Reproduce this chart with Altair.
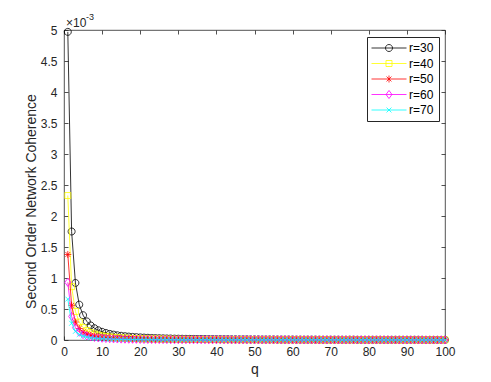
import altair as alt
import pandas as pd

# ---------------- data (values in units of 1e-3) ----------------
q = list(range(1, 101))
series_names = ["r=30", "r=40", "r=50", "r=60", "r=70"]
series_colors = ["#000000", "#FFFF00", "#FF0000", "#FF00FF", "#00FFFF"]

r30 = [4.97, 1.75, 0.92, 0.57, 0.40, 0.30, 0.235, 0.19, 0.157, 0.132,
       0.113, 0.098, 0.086, 0.076, 0.068, 0.061, 0.055, 0.050, 0.046, 0.042,
       0.039, 0.036, 0.033, 0.031, 0.029, 0.027, 0.025, 0.024, 0.022, 0.021,
       0.020, 0.019, 0.018, 0.017, 0.016, 0.016, 0.015, 0.014, 0.014, 0.013,
       0.013, 0.012, 0.012, 0.011, 0.011, 0.010, 0.010, 0.010, 0.009, 0.009,
       0.009, 0.008, 0.008, 0.008, 0.008, 0.007, 0.007, 0.007, 0.007, 0.007,
       0.006, 0.006, 0.006, 0.006, 0.006, 0.006, 0.005, 0.005, 0.005, 0.005,
       0.005, 0.005, 0.005, 0.005, 0.005, 0.005, 0.004, 0.004, 0.004, 0.004,
       0.004, 0.004, 0.004, 0.004, 0.004, 0.004, 0.004, 0.004, 0.004, 0.004,
       0.004, 0.004, 0.004, 0.004, 0.003, 0.003, 0.003, 0.003, 0.003, 0.003]

r40 = [2.33, 0.86, 0.46, 0.29, 0.20, 0.152, 0.119, 0.096, 0.079, 0.067,
       0.057, 0.049, 0.043, 0.038, 0.034, 0.031, 0.028, 0.025, 0.023, 0.021,
       0.020, 0.018, 0.017, 0.016, 0.015, 0.014, 0.013, 0.012, 0.011, 0.011,
       0.010, 0.010, 0.009, 0.009, 0.008, 0.008, 0.008, 0.007, 0.007, 0.007,
       0.006, 0.006, 0.006, 0.006, 0.006, 0.006, 0.005, 0.005, 0.005, 0.005,
       0.005, 0.005, 0.005, 0.005, 0.004, 0.004, 0.004, 0.004, 0.004, 0.004,
       0.004, 0.004, 0.004, 0.004, 0.004, 0.004, 0.003, 0.003, 0.003, 0.003,
       0.003, 0.003, 0.003, 0.003, 0.003, 0.003, 0.003, 0.003, 0.003, 0.003,
       0.003, 0.003, 0.003, 0.003, 0.003, 0.002, 0.002, 0.002, 0.002, 0.002,
       0.002, 0.002, 0.002, 0.002, 0.002, 0.002, 0.002, 0.002, 0.002, 0.002]

r50 = [1.38, 0.56, 0.29, 0.185, 0.128, 0.095, 0.074, 0.060, 0.049, 0.041,
       0.035, 0.030, 0.027, 0.024, 0.021, 0.019, 0.017, 0.015, 0.014, 0.013,
       0.012, 0.011, 0.010, 0.010, 0.009, 0.008, 0.008, 0.007, 0.007, 0.007,
       0.006, 0.006, 0.006, 0.006, 0.006, 0.005, 0.005, 0.005, 0.005, 0.005,
       0.005, 0.005, 0.005, 0.004, 0.004, 0.004, 0.004, 0.004, 0.004, 0.004,
       0.004, 0.004, 0.004, 0.004, 0.003, 0.003, 0.003, 0.003, 0.003, 0.003,
       0.003, 0.003, 0.003, 0.003, 0.003, 0.003, 0.003, 0.003, 0.003, 0.003,
       0.002, 0.002, 0.002, 0.002, 0.002, 0.002, 0.002, 0.002, 0.002, 0.002,
       0.002, 0.002, 0.002, 0.002, 0.002, 0.002, 0.002, 0.002, 0.002, 0.002,
       0.002, 0.002, 0.002, 0.002, 0.002, 0.002, 0.002, 0.002, 0.002, 0.002]

r60 = [0.93, 0.38, 0.20, 0.125, 0.087, 0.065, 0.051, 0.041, 0.034, 0.028,
       0.024, 0.021, 0.018, 0.016, 0.014, 0.013, 0.012, 0.011, 0.010, 0.009,
       0.008, 0.008, 0.007, 0.007, 0.006, 0.006, 0.006, 0.005, 0.005, 0.005,
       0.005, 0.005, 0.004, 0.004, 0.004, 0.004, 0.004, 0.004, 0.004, 0.004,
       0.004, 0.004, 0.004, 0.003, 0.003, 0.003, 0.003, 0.003, 0.003, 0.003,
       0.003, 0.003, 0.003, 0.003, 0.003, 0.003, 0.003, 0.003, 0.002, 0.002,
       0.002, 0.002, 0.002, 0.002, 0.002, 0.002, 0.002, 0.002, 0.002, 0.002,
       0.002, 0.002, 0.002, 0.002, 0.002, 0.002, 0.002, 0.002, 0.002, 0.002,
       0.002, 0.002, 0.002, 0.002, 0.002, 0.001, 0.001, 0.001, 0.001, 0.001,
       0.001, 0.001, 0.001, 0.001, 0.001, 0.001, 0.001, 0.001, 0.001, 0.001]

r70 = [0.66, 0.27, 0.14, 0.089, 0.062, 0.046, 0.036, 0.029, 0.024, 0.020,
       0.017, 0.015, 0.013, 0.011, 0.010, 0.009, 0.008, 0.0075, 0.007, 0.0065,
       0.006, 0.0055, 0.005, 0.005, 0.0045, 0.004, 0.004, 0.004, 0.0035, 0.0035,
       0.003, 0.003, 0.003, 0.003, 0.003, 0.003, 0.003, 0.003, 0.003, 0.003,
       0.0025, 0.0025, 0.0025, 0.0025, 0.0025, 0.0025, 0.0025, 0.0025, 0.0025, 0.0025,
       0.002, 0.002, 0.002, 0.002, 0.002, 0.002, 0.002, 0.002, 0.002, 0.002,
       0.002, 0.002, 0.002, 0.002, 0.002, 0.002, 0.002, 0.002, 0.002, 0.002,
       0.0015, 0.0015, 0.0015, 0.0015, 0.0015, 0.0015, 0.0015, 0.0015, 0.0015, 0.0015,
       0.0015, 0.0015, 0.0015, 0.0015, 0.0015, 0.001, 0.001, 0.001, 0.001, 0.001,
       0.001, 0.001, 0.001, 0.001, 0.001, 0.001, 0.001, 0.001, 0.001, 0.001]

x_ticks = [0, 10, 20, 30, 40, 50, 60, 70, 80, 90, 100]
y_ticks = [0, 0.5, 1, 1.5, 2, 2.5, 3, 3.5, 4, 4.5, 5]

series_values = [r30, r40, r50, r60, r70]

# ---------------- styling ----------------
INK = "#262626"
FONT = "Liberation Sans"
LW = 0.8

marker_paths = [
    "M1,0A1,1,0,1,1,-1,0A1,1,0,1,1,1,0Z",                                  # circle
    "M-1,-1L1,-1L1,1L-1,1Z",                                               # square
    "M0,-1L0,1M-1,0L1,0M-0.7,-0.7L0.7,0.7M-0.7,0.7L0.7,-0.7",              # asterisk
    "M0,-1.15L0.85,0L0,1.15L-0.85,0Z",                                     # diamond
    "M-0.7,-0.7L0.7,0.7M-0.7,0.7L0.7,-0.7",                                # x
]
marker_sizes = [49, 36, 49, 49, 49]
legend_paths = [
    "M-5,0L5,0M1,0A1,1,0,1,1,-1,0A1,1,0,1,1,1,0Z",
    "M-5,0L5,0M-0.86,-0.86L0.86,-0.86L0.86,0.86L-0.86,0.86Z",
    "M-5,0L5,0M0,-1L0,1M-0.7,-0.7L0.7,0.7M-0.7,0.7L0.7,-0.7",
    "M-5,0L5,0M0,-1.15L0.85,0L0,1.15L-0.85,0Z",
    "M-5,0L5,0M-0.7,-0.7L0.7,0.7M-0.7,0.7L0.7,-0.7",
]

frames = []
for name, vals in zip(series_names, series_values):
    frames.append(pd.DataFrame({"q": q, "v": vals, "series": name}))
df = pd.concat(frames, ignore_index=True)

x_scale = alt.Scale(domain=[0, 100], nice=False, zero=False)
y_scale = alt.Scale(domain=[0, 5], nice=False, zero=False)

X = alt.X("q:Q", scale=x_scale,
          axis=alt.Axis(values=x_ticks, title="q", domain=False, grid=False,
                        offset=-4, tickSize=4, labelPadding=6, labelFlush=False,
                        labelFontSize=12, titleFontSize=14,
                        titleY=37, titleBaseline="alphabetic"))
Y = alt.Y("v:Q", scale=y_scale,
          axis=alt.Axis(values=y_ticks, format="~g", title="Second Order Network Coherence",
                        domain=False, grid=False, offset=-4, tickSize=4, labelPadding=7,
                        labelFlush=False, labelFontSize=12, titleFontSize=14,
                        titleX=-37, titleY=171, titleAngle=270, titleBaseline="middle"))

layers = []
for name, col, path, sz in zip(series_names, series_colors, marker_paths, marker_sizes):
    sub = df[df["series"] == name]
    layers.append(alt.Chart(sub).mark_line(color=col, strokeWidth=LW).encode(x=X, y=Y))
    layers.append(alt.Chart(sub).mark_point(shape=path, color=col, filled=False,
                                            size=sz, strokeWidth=LW, opacity=1).encode(x=X, y=Y))

leg = alt.Legend(title=None, orient="none", legendX=303, legendY=7,
                 strokeColor=INK, fillColor="white", padding=5,
                 symbolSize=49, symbolStrokeWidth=LW, symbolOffset=11, labelOffset=14,
                 rowPadding=3.5, labelFont=FONT, labelFontSize=12, labelColor="#000000",
                 symbolOpacity=1)

proxy = alt.Chart(df).mark_point(filled=False, opacity=0).encode(
    x=X, y=Y,
    color=alt.Color("series:N", scale=alt.Scale(domain=series_names, range=series_colors), legend=leg),
    shape=alt.Shape("series:N", scale=alt.Scale(domain=series_names, range=legend_paths), legend=leg),
)
layers.append(proxy)

main = alt.layer(*layers)

mirror = alt.Chart(df[df["series"] == "r=30"]).mark_point(opacity=0).encode(
    x=alt.X("q:Q", scale=x_scale,
            axis=alt.Axis(orient="top", values=x_ticks, labels=False, title=None, domain=False,
                          grid=False, offset=-4, tickSize=4)),
    y=alt.Y("v:Q", scale=y_scale,
            axis=alt.Axis(orient="right", values=y_ticks, labels=False, title=None, domain=False,
                          grid=False, offset=-4, tickSize=4)),
)

exp_base = alt.Chart(pd.DataFrame({"t": ["×10"]})).mark_text(
    align="left", baseline="alphabetic", font=FONT, fontSize=12, color=INK
).encode(text="t:N", x=alt.value(2), y=alt.value(-3))
exp_sup = alt.Chart(pd.DataFrame({"t": ["-3"]})).mark_text(
    align="left", baseline="alphabetic", font=FONT, fontSize=9, color=INK
).encode(text="t:N", x=alt.value(22), y=alt.value(-10))

chart = alt.layer(main, mirror, exp_base, exp_sup).resolve_scale(
    x="independent", y="independent"
).properties(
    width=381, height=310,
    autosize=alt.AutoSizeParams(type="none"),
    padding={"left": 56, "top": 22, "right": 30, "bottom": 40},
).configure_view(
    stroke=INK, strokeWidth=LW
).configure_axis(
    labelFont=FONT, titleFont=FONT, labelColor=INK, titleColor=INK,
    tickColor=INK, tickWidth=LW, titleFontWeight="normal"
)

chart.save("out.html", embed_options={"renderer": "svg", "actions": False})
